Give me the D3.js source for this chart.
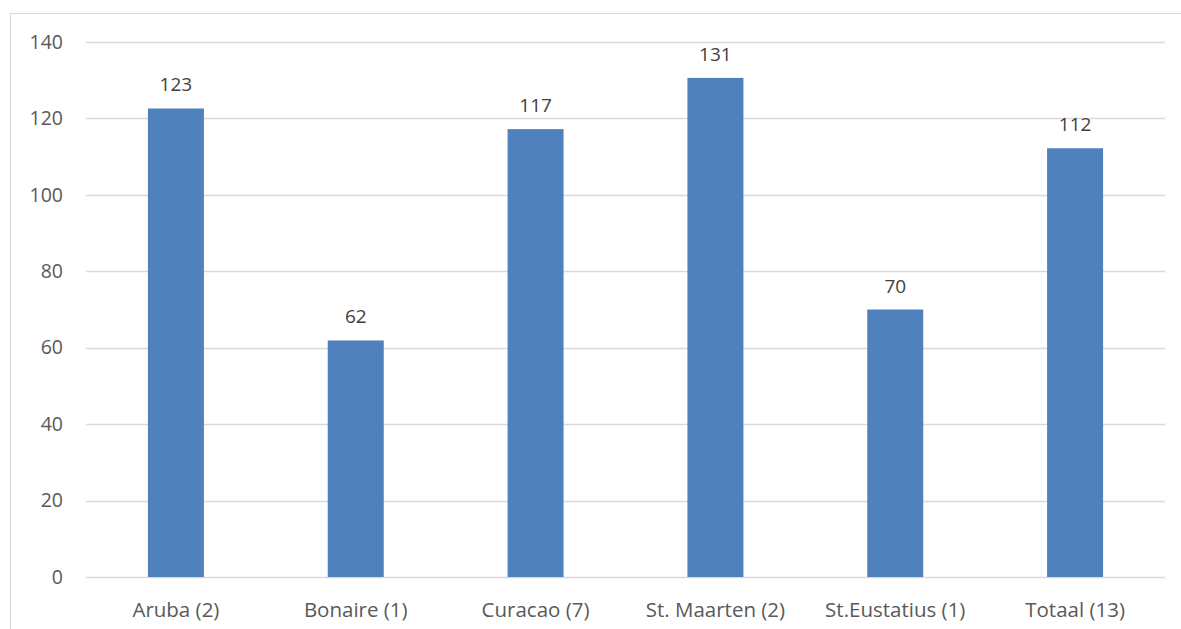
<!DOCTYPE html>
<html>
<head>
<meta charset="utf-8">
<script src="https://cdn.jsdelivr.net/npm/d3@7"></script>
<style>
	body { margin: 0; background: #fff; }
	svg { display: block; font-family: "Open Sans", "Liberation Sans", sans-serif; }
</style>
</head>
<body>
<svg id="chart" width="1181" height="629"></svg>
<script>
// data
var categories = ['Aruba (2)', 'Bonaire (1)', 'Curacao (7)', 'St. Maarten (2)', 'St.Eustatius (1)', 'Totaal (13)'];
var values = [122.6, 61.9, 117.2, 130.6, 70.0, 112.2];
var yTicks = [0, 20, 40, 60, 80, 100, 120, 140];

var svg = d3.select('#chart');
var plotLeft = 86, plotRight = 1165, plotTop = 42, plotBottom = 577;
var textColor = '#595959', gridColor = '#d9d9d9', barColor = '#4f81bd';
var fontSize = '19px';

// chart frame
svg.append('rect')
	.attr('x', 10.5).attr('y', 13.5)
	.attr('width', 1185).attr('height', 640)
	.attr('fill', 'none')
	.attr('stroke', gridColor)
	.attr('stroke-width', 1);

var xScale = d3.scaleBand()
	.domain(categories)
	.range([plotLeft, plotRight]);

var yScale = d3.scaleLinear()
	.domain([0, 140])
	.range([plotBottom, plotTop]);

// gridlines
svg.append('g')
	.selectAll('line')
	.data(yTicks)
	.enter()
	.append('line')
	.attr('x1', plotLeft).attr('x2', plotRight)
	.attr('y1', function (d) { return Math.round(yScale(d)) + 0.5; })
	.attr('y2', function (d) { return Math.round(yScale(d)) + 0.5; })
	.attr('stroke', gridColor)
	.attr('stroke-width', 1.3);

// y axis labels
var yAxis = d3.axisLeft(yScale).tickValues(yTicks).tickSize(0).tickPadding(23);
var yg = svg.append('g').attr('transform', 'translate(' + [plotLeft, 0] + ')').call(yAxis);
yg.select('.domain').remove();
yg.selectAll('text').attr('fill', textColor).style('font-size', '19.5px').style('font-family', '"Open Sans", sans-serif');

// bars
var barWidth = 56;
svg.append('g')
	.selectAll('rect')
	.data(values)
	.enter()
	.append('rect')
	.attr('x', function (d, i) { return xScale(categories[i]) + xScale.bandwidth() / 2 - barWidth / 2; })
	.attr('y', function (d) { return yScale(d); })
	.attr('width', barWidth)
	.attr('height', function (d) { return yScale(0) - yScale(d); })
	.attr('fill', barColor);

// value labels
svg.append('g')
	.selectAll('text')
	.data(values)
	.enter()
	.append('text')
	.attr('x', function (d, i) { return xScale(categories[i]) + xScale.bandwidth() / 2; })
	.attr('y', function (d) { return yScale(d) - 17; })
	.attr('text-anchor', 'middle')
	.attr('fill', '#404040')
	.style('font-size', fontSize)
	.text(function (d) { return d3.format('.0f')(d); });

// x axis
var xAxis = d3.axisBottom(xScale).tickSize(0).tickPadding(25);
var xg = svg.append('g').attr('transform', 'translate(' + [0, plotBottom] + ')').call(xAxis);
xg.select('.domain').remove();
xg.selectAll('text').attr('fill', textColor).style('font-size', '20.5px').style('font-family', '"Open Sans", sans-serif');
</script>
</body>
</html>
